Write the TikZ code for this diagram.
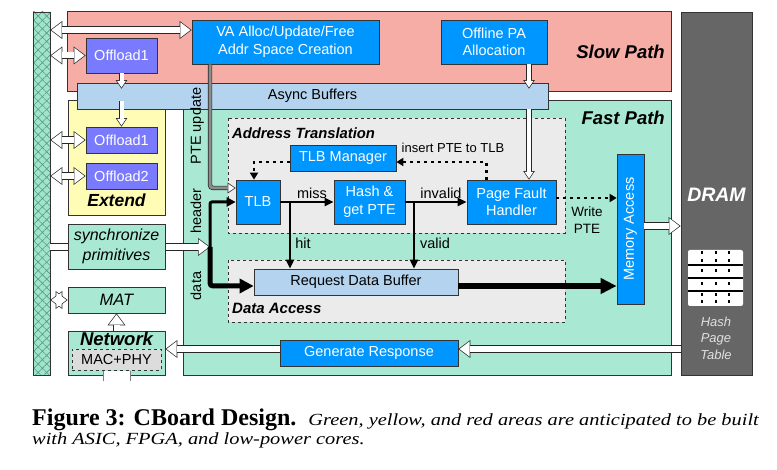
\documentclass[tikz,border=0pt]{standalone}
\usepackage{fontspec}
\setmainfont{Liberation Serif}
\setsansfont{Liberation Sans}
\newfontfamily\capit[FakeStretch=1.2]{Liberation Serif}
\usetikzlibrary{arrows.meta,patterns.meta}

\definecolor{slowred}{HTML}{F5ADA5}
\definecolor{extyellow}{HTML}{FFFCB5}
\definecolor{fastgreen}{HTML}{A9E9D4}
\definecolor{asyncblue}{HTML}{B3D3EF}
\definecolor{boxblue}{HTML}{0096FF}
\definecolor{offpurple}{HTML}{7A7AFF}
\definecolor{dashgray}{HTML}{EBEBEB}
\definecolor{macgray}{HTML}{DCDCDC}
\definecolor{dramgray}{HTML}{666666}
\definecolor{hatchfill}{HTML}{A3E3CC}
\definecolor{hatchline}{HTML}{4F9F84}

\newcommand{\fsz}[2]{\fontsize{#1}{#2}\selectfont}

\tikzset{
  fatout/.tip={Triangle[length=12pt,width=18pt,line width=0pt]},
  fatin/.tip={Triangle[length=10.1pt,width=15.2pt,line width=0pt]},
  slimout/.tip={Triangle[length=8.5pt,width=11.5pt,line width=0pt]},
  slimin/.tip={Triangle[length=6.6pt,width=8.9pt,line width=0pt]},
  region/.style={draw=black!80, line width=0.7pt, fill=#1},
  dashregion/.style={draw=black!80, line width=0.7pt, dashed, fill=dashgray},
  box/.style={draw=black!80, line width=0.7pt, fill=boxblue, text=white, inner sep=0pt, align=center},
  offbox/.style={box, fill=offpurple, minimum width=71pt, minimum height=26pt},
  greenbox/.style={box, fill=fastgreen, text=black, minimum width=97pt},
  title/.style={font=\sffamily\bfseries\itshape\fsz{#1}{#1}, inner sep=0pt},
  title/.default=18.5,
  lbl/.style={inner sep=0pt},
  fat/.style={draw=black!85, line width=7.4pt, -fatout,
    postaction={draw=white, line width=6pt, shorten >=1.17pt, -fatin}},
  fatboth/.style={draw=black!85, line width=7.4pt, fatout-fatout,
    postaction={draw=white, line width=6pt, shorten >=1.17pt, shorten <=1.17pt, fatin-fatin}},
  slim/.style={draw=black!85, line width=5.4pt, -slimout,
    postaction={draw=white, line width=4pt, shorten >=1.25pt, -slimin}},
  sol/.style={line width=2.2pt, -{Triangle[length=9pt,width=8pt]}},
  dots/.style={line width=2.5pt, dash pattern=on 3pt off 4pt, -{Triangle[length=7pt,width=8pt]}},
}

\begin{document}
\begin{tikzpicture}[x=1pt,y=-1pt, font=\sffamily\fsz{14.5}{17.5}]
\useasboundingbox (0,0) rectangle (777,470);

\draw[region=slowred] (67,11) rectangle (671,91);
\draw[region=extyellow] (68,100) rectangle (165,215);
\draw[region=fastgreen] (183,100) rectangle (671,375);
\node[draw=black!80, line width=0.7pt, fill=asyncblue, minimum width=471pt, minimum height=26pt, inner sep=0pt] (async) at (312.5,96) {Async Buffers};
\draw[dashregion] (228,118) rectangle (565,233);
\draw[dashregion] (228,260) rectangle (565,322);

\node[title, anchor=east] (slow) at (665,52) {Slow Path};
\node[title, anchor=east] (fast) at (665,118) {Fast Path};
\node[title=14.8, anchor=west] (atr) at (232,133) {Address Translation};
\node[title=15, anchor=west] (dacc) at (232,308) {Data Access};
\node[title=17.5] (ext) at (116.5,200) {Extend};

\node[draw=black!80, line width=0.7pt, minimum width=17pt, minimum height=363pt, inner sep=0pt,
  preaction={fill=hatchfill}, pattern={Hatch[angle=45,distance=6pt,line width=0.6pt]}, pattern color=hatchline] (bus) at (41.5,193.5) {};
\node[draw=black!80, line width=0.7pt, fill=dramgray, minimum width=71pt, minimum height=363pt, inner sep=0pt] (dram) at (716.5,193.5) {};
\node[title=19.5, text=white] (dramlbl) at (716.5,195) {DRAM};
\fill[white, rounded corners=2pt] (688,250) rectangle (743,306);
\foreach \y in {265,278,291}
  \draw[line width=1.2pt] (688,\y) -- (743,\y);
\foreach \x in {702,716,729}
  \foreach \y in {253,261,271,284,295,302}
    \draw[line width=1.5pt] (\x,\y-1.5) -- (\x,\y+1.5);
\node[font=\sffamily\itshape\fsz{13}{16.5}, text=black!12, align=center] (hpt) at (716,338) {Hash\\Page\\Table};

\coordinate (split) at (210,247);
\coordinate (ptex) at (210,0);
\coordinate (dlane) at (0,286);
\coordinate (hitx) at (290,0);
\coordinate (validx) at (414,0);
\coordinate (pax) at (529,0);
\draw[fat] (bus.east |- split) -- (split);

\node[box, minimum width=187pt, minimum height=44pt] (va) at (285.5,42) {VA Alloc/Update/Free\\Addr Space Creation};
\node[box, minimum width=106pt, minimum height=44pt] (pa) at (494,42) {Offline PA\\Allocation};
\node[offbox, minimum height=35pt] (offA) at (121.5,55.5) {Offload1};
\node[offbox] (offB) at (121.5,140) {Offload1};
\node[offbox] (offC) at (121.5,176) {Offload2};
\node[greenbox, minimum height=45pt, font=\sffamily\itshape\fsz{16}{19.5}] (sync) at (116.5,246.5) {synchronize\\primitives};
\node[greenbox, minimum height=26pt, font=\sffamily\itshape\fsz{16.5}{19}] (mat) at (116.5,300) {MAT};
\node[greenbox, minimum height=44pt] (net) at (116.5,353) {};
\node[title=18.5] (netlbl) at (116.5,339) {Network};
\node[box, dashed, fill=macgray, text=black, minimum width=89pt, minimum height=21pt] (mac) at (116.5,360) {MAC+PHY};
\fill[white] (103,371) rectangle (130,381);
\draw[black!50, line width=0.7pt] (103,371) -- (103,381) (130,371) -- (130,381);

\node[box, minimum width=106pt, minimum height=26pt] (tlbm) at (343,158) {TLB Manager};
\node[box, minimum width=44pt, minimum height=44pt] (tlb) at (258,202) {TLB};
\node[box, minimum width=71pt, minimum height=44pt] (hash) at (369.5,202) {Hash \&\\get PTE};
\node[box, minimum width=89pt, minimum height=44pt] (pfh) at (511.5,202) {Page Fault\\Handler};
\node[box, minimum width=150pt, minimum height=27pt, rotate=90] (mem) at (630.5,229) {Memory Access};
\node[box, fill=asyncblue, text=black, minimum width=204pt, minimum height=26pt] (rdb) at (356,282) {Request Data Buffer};
\node[box, minimum width=178pt, minimum height=26pt] (gen) at (369,353) {Generate Response};

\draw[fatboth] ([yshift=12pt]va.west -| bus.east) -- ([yshift=12pt]va.west);
\draw[fatboth] (bus.east |- offA.west) -- (offA.west);
\draw[fatboth] (bus.east |- offB.west) -- (offB.west);
\draw[fatboth] (bus.east |- offC.west) -- (offC.west);
\draw[fatboth] (bus.east |- mat.west) -- (mat.west);
\draw[slim] (offA.south) -- ([yshift=-6pt]offA.south |- async.north);
\draw[slim] ([yshift=8pt]offB.north |- async.south) -- (offB.north);
\draw[slim] (pa.south -| pax) -- ([yshift=-6pt]async.north -| pax);
\draw[slim] (async.south -| pax) -- (pfh.north -| pax);
\draw[fat] (net.north) -- (mat.south);
\draw[fat] ([yshift=3pt]mem.south) -- ([yshift=3pt]mem.south -| dram.west);
\draw[fat] ([yshift=4pt]gen.east -| dram.west) -- ([yshift=4pt]gen.east);
\draw[fat] ([yshift=4pt]gen.west) -- ([yshift=4pt]gen.west -| net.east);
\draw[draw=black!85, line width=4.4pt, rounded corners=3pt, -{Triangle[length=8pt,width=11pt,line width=0pt]},
  postaction={draw=black!45, line width=3pt, shorten >=1.24pt, -{Triangle[length=6.1pt,width=8.3pt,line width=0pt,color=white]}}]
  (va.south -| ptex) |- ([yshift=14pt]tlb.west);

\draw[line width=3pt, rounded corners=2pt, -{Triangle[length=9pt,width=9pt]}] (split) |- (tlb.west);
\draw[line width=5pt, rounded corners=3pt, -{Triangle[length=14pt,width=14pt]}] (split) |- (rdb.west |- dlane);
\draw[line width=6pt, -{Triangle[length=16pt,width=15pt]}] (rdb.east |- dlane) -- (mem.north |- dlane);
\draw[sol] (tlb.east) -- (hash.west);
\draw[sol] (hash.east) -- (pfh.west);
\draw[sol, line width=2pt] (hitx |- tlb.east) -- (hitx |- rdb.north);
\draw[sol, line width=2pt] (validx |- hash.east) -- (validx |- rdb.north);
\draw[dots] ([yshift=-4pt]tlbm.west) -| ([xshift=-4pt]tlb.north);
\draw[dots] ([xshift=-25pt]pfh.north) |- ([yshift=-4pt]tlbm.east);
\draw[dots] ([yshift=4pt]pfh.east) -- ([yshift=4pt]pfh.east -| mem.north);

\node[lbl, rotate=90] (pteup) at (197,126) {PTE update};
\node[lbl, rotate=90] (hdr) at (196,211) {header};
\node[lbl, rotate=90] (dat) at (196,286) {data};
\node[lbl] (miss) at (312,193) {miss};
\node[lbl] (inval) at (441,193) {invalid};
\node[lbl] (hit) at (303,243) {hit};
\node[lbl] (valid) at (435,243) {valid};
\node[lbl, font=\sffamily\fsz{13}{16}] (ins) at (453,148) {insert PTE to TLB};
\node[lbl, font=\sffamily\fsz{13.5}{16.5}, align=center] (wpte) at (587,220) {Write\\PTE};

\node[anchor=base west, inner sep=0pt, font=\rmfamily] (cap1) at (32,425)
  {{\fsz{24}{28}\bfseries Figure 3: CBoard Design.}\hspace{12pt}{\capit\itshape\fsz{17}{20}Green, yellow, and red areas are anticipated to be built}};
\node[anchor=base west, inner sep=0pt, font=\capit\itshape\fsz{17}{20}] (cap2) at (32,445)
  {with ASIC, FPGA, and low-power cores.};
\end{tikzpicture}
\end{document}
